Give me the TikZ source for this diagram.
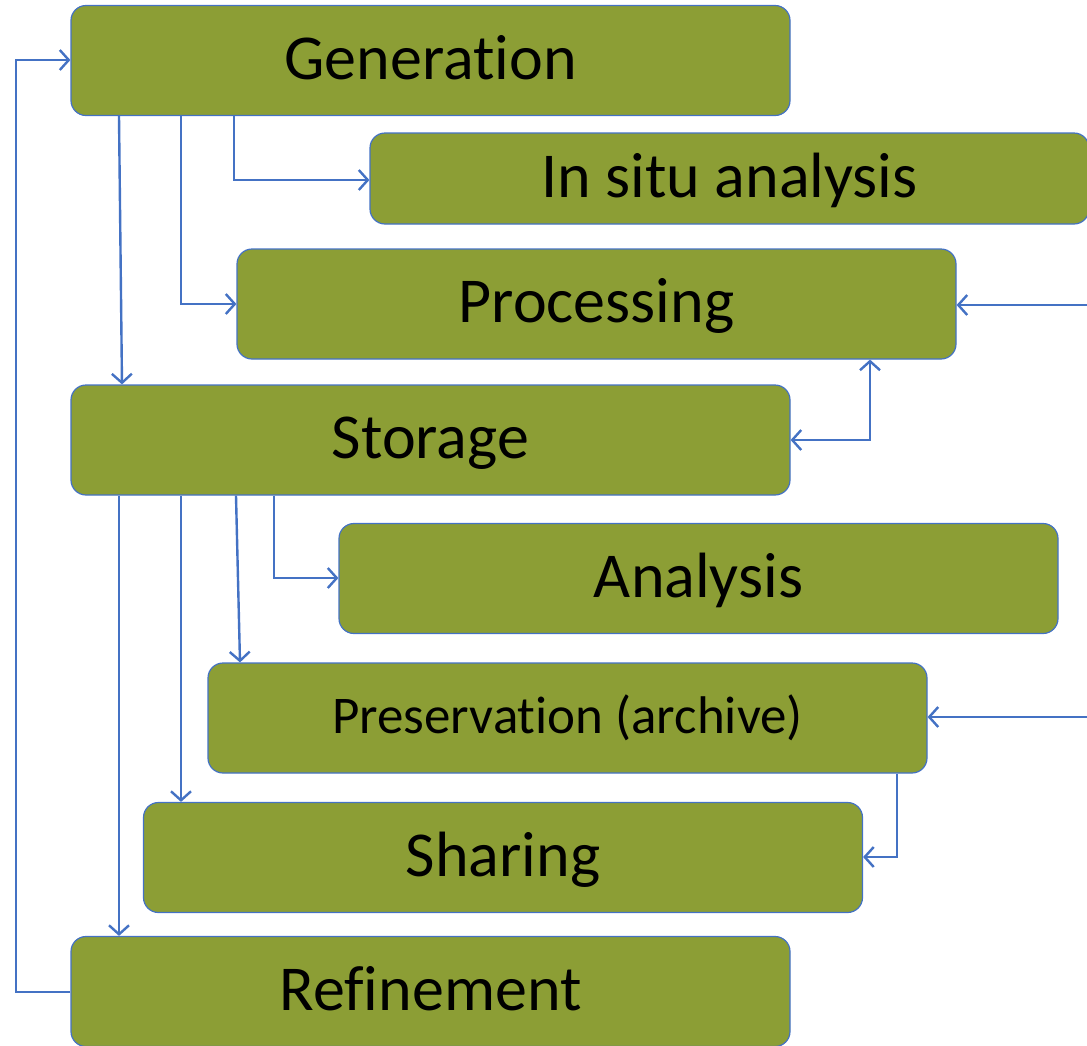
\documentclass[tikz,border=0pt]{standalone}
\usepackage{fontspec}
\setmainfont{Carlito}[Ligatures={NoCommon}]
\usetikzlibrary{arrows.meta,calc}
\definecolor{boxfill}{HTML}{8C9E35}
\definecolor{lineblue}{HTML}{4472C4}
\begin{document}
\begin{tikzpicture}[x=1pt,y=-1pt,
  stagebox/.style={draw=lineblue,line width=1.2pt,fill=boxfill,rounded corners=15pt,
    minimum width=719pt,minimum height=110pt,inner sep=0pt,text height=50pt,text depth=12.8pt,
    font=\fontsize{64}{72}\selectfont,anchor=center},
  conn/.style={draw=lineblue,line width=2.4pt,-{Straight Barb[length=9pt,width=20pt,line width=2.4pt]}},
  conn2/.style={draw=lineblue,line width=2.4pt,{Straight Barb[length=9pt,width=20pt,line width=2.4pt]}-{Straight Barb[length=9pt,width=20pt,line width=2.4pt]}}]
\useasboundingbox (0,0) rectangle (1087,1045);
\node[stagebox] (gen) at (430.5,60.5) {Generation};
\node[stagebox,minimum height=91pt] (insitu) at (729.5,178.5) {In situ analysis};
\node[stagebox] (proc) at (596.5,304) {Processing};
\node[stagebox] (stor) at (430.5,440) {Storage};
\node[stagebox] (ana) at (698.5,578.5) {Analysis};
\node[stagebox,font=\fontsize{53}{60}\selectfont,text height=41.3pt,text depth=10.6pt] (pres) at (567.5,718) {Preservation (archive)};
\node[stagebox] (shar) at (503,857.5) {Sharing};
\node[stagebox] (ref) at (430.5,991.5) {Refinement};
\coordinate (procin) at (1087,305);
\coordinate (presin) at (1087,717);
% Refinement back to Generation
\draw[conn] (ref.west |- 0,992) -- (16,992) -- (16,60) -- (gen.west |- 0,60);
% from Generation
\draw[conn] (gen.south -| 119,0) -- (stor.north -| 122,0);
\draw[conn] (gen.south -| 181,0) -- (181,304) -- (proc.west |- 0,304);
\draw[conn] (gen.south -| 234,0) -- (234,180) -- (insitu.west |- 0,180);
% into Processing from right
\draw[conn] (procin) -- (proc.east |- procin);
% Storage <-> Processing
\draw[conn2] (stor.east |- 0,440) -- (870,440) -- (proc.south -| 870,0);
% from Storage
\draw[conn] (stor.south -| 119,0) -- (ref.north -| 119,0);
\draw[conn] (stor.south -| 181,0) -- (shar.north -| 181,0);
\draw[conn] (stor.south -| 236,0) -- (pres.north -| 240,0);
\draw[conn] (stor.south -| 274,0) -- (274,578) -- (ana.west |- 0,578);
% into Preservation from right
\draw[conn] (presin) -- (pres.east |- presin);
% Preservation to Sharing
\draw[conn] (pres.south -| 897,0) -- (897,857) -- (shar.east |- 0,857);
\end{tikzpicture}
\end{document}
